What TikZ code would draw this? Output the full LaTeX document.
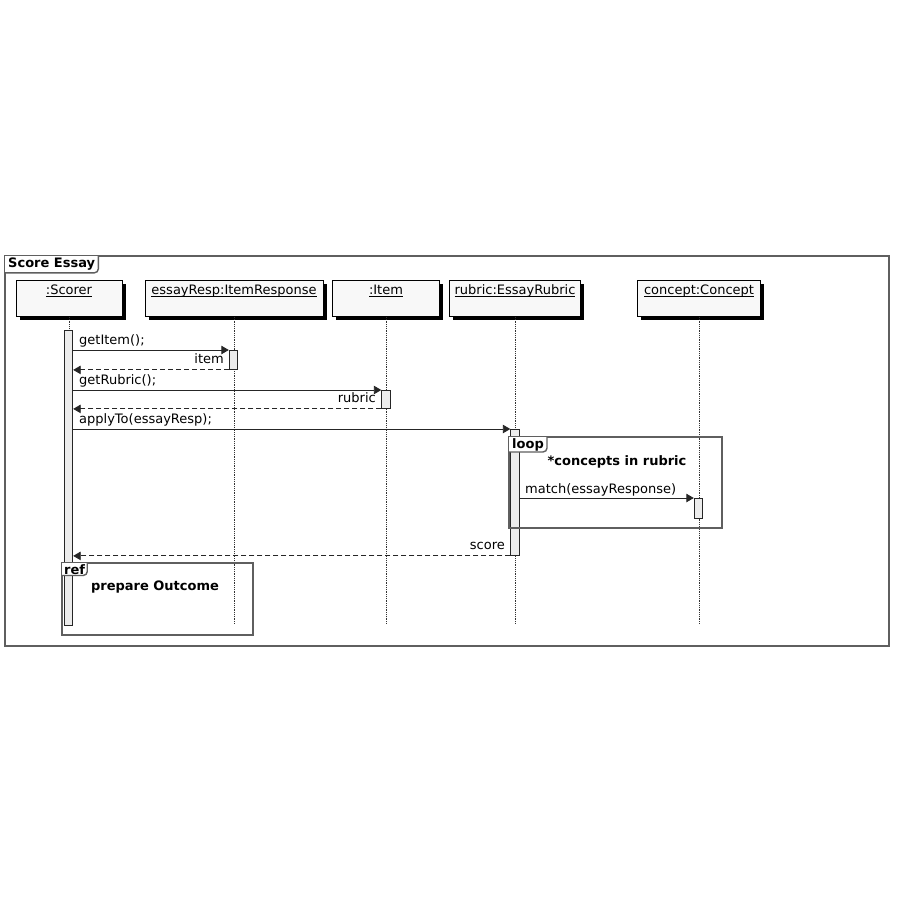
\documentclass[tikz,border=0pt]{standalone}
\usepackage{fontspec}
\setmainfont{DejaVu Sans}
\usetikzlibrary{arrows.meta,shadows}

\definecolor{framegray}{HTML}{5F5F5F}
\definecolor{headfill}{HTML}{F8F8F8}
\definecolor{actfill}{HTML}{ECECEC}

\newcommand{\objname}[1]{\underline{\smash{#1}}}

\tikzset{
  base/.style={font=\fontsize{13}{15}\selectfont},
  head/.style={base, draw=black, line width=0.9pt, fill=headfill, anchor=north,
    minimum height=35pt, inner ysep=3pt, text height=11pt, text depth=19pt,
    drop shadow={shadow xshift=3.5pt, shadow yshift=-3.5pt, fill=black, opacity=1}},
  lifeline/.style={densely dotted, line width=0.8pt, black!80},
  act/.style={draw=black!85, line width=0.9pt, fill=actfill, minimum width=8.5pt, anchor=north, inner sep=0pt},
  msg/.style={line width=0.9pt, black!85, -{Triangle[length=7.5pt,width=8.5pt]}},
  ret/.style={msg, dashed, dash pattern=on 5pt off 3pt},
  lbl/.style={base, inner sep=0pt},
  frame/.style={draw=framegray, line width=1.6pt},
  tabtext/.style={font=\fontsize{13}{15}\selectfont\bfseries, inner xsep=3pt, inner ysep=2pt, anchor=north west},
  tab/.style={draw=framegray, line width=1.4pt, rounded corners=4pt},
  guard/.style={font=\fontsize{13}{15}\selectfont\bfseries, inner sep=0pt}
}

\begin{document}
\begin{tikzpicture}[x=1pt,y=-1pt]
\useasboundingbox (0,0) rectangle (900,899);
\fill[white] (0,0) rectangle (900,899);

% outer interaction frame
\draw[frame, line width=1.4pt] (5,256) rectangle (889,646);
\coordinate (outerNW) at (5,256);
\node[tabtext, fill=white] (title) at (outerNW) {Score Essay};
\draw[tab] (title.south west) -- (title.south east) -- (title.north east);

% lifeline heads
\node[head, minimum width=106pt] (scorer)  at (69,280)  {\objname{:Scorer}};
\node[head, minimum width=178pt] (resp)    at (234,280) {\objname{essayResp:ItemResponse}};
\node[head, minimum width=107pt] (item)    at (386,280) {\objname{:Item}};
\node[head, minimum width=131pt] (rubric)  at (515,280) {\objname{rubric:EssayRubric}};
\node[head, minimum width=123pt] (concept) at (699,280) {\objname{concept:Concept}};

% lifeline ends
\coordinate (scorerEnd)  at (69,625);
\coordinate (respEnd)    at (234,623);
\coordinate (itemEnd)    at (386,623);
\coordinate (rubricEnd)  at (515,623);
\coordinate (conceptEnd) at (699,623);

\draw[lifeline] (scorer.south)  -- (scorerEnd);
\draw[lifeline] (resp.south)    -- (respEnd);
\draw[lifeline] (item.south)    -- (itemEnd);
\draw[lifeline] (rubric.south)  -- (rubricEnd);
\draw[lifeline] (concept.south) -- (conceptEnd);

% activations
\node[act, minimum height=295pt] (sA) at (68.5,330) {};
\node[act, minimum height=19pt]  (iA) at (233.5,350) {};
\node[act, minimum height=18pt]  (tA) at (386,390) {};
\node[act, minimum height=126pt] (rA) at (515,429) {};
\node[act, minimum height=20pt]  (cA) at (698.5,498) {};

% getItem
\draw[msg] (sA.east |- iA.north west) -- (iA.north west);
\node[lbl, anchor=base west] (m1) at (79,344) {getItem();};
\node[lbl, anchor=base east] (r1) at (224,363) {item};
\draw[ret] (iA.south west) -- (sA.east |- iA.south west);

% getRubric
\draw[msg] (sA.east |- tA.north west) -- (tA.north west);
\node[lbl, anchor=base west] (m2) at (79,384) {getRubric();};
\node[lbl, anchor=base east] (r2) at (376,402) {rubric};
\draw[ret] (tA.south west) -- (sA.east |- tA.south west);

% applyTo
\draw[msg] (sA.east |- rA.north west) -- (rA.north west);
\node[lbl, anchor=base west] (m3) at (79,423) {applyTo(essayResp);};

% loop fragment
\draw[frame, line width=2pt] (509,437) rectangle (722,528);
\coordinate (loopNW) at (509,437);
\node[tabtext, fill=white, inner ysep=1pt] (loopTab) at (loopNW) {loop};
\draw[tab] (loopTab.south west) -- (loopTab.south east) -- (loopTab.north east);
\node[guard, anchor=base] (cond) at (617,465) {*concepts in rubric};

% match
\draw[msg] (rA.east |- cA.north west) -- (cA.north west);
\node[lbl, anchor=base west] (m4) at (525,493) {match(essayResponse)};

% score
\node[lbl, anchor=base east] (r3) at (505,549) {score};
\draw[ret] (rA.south west) -- (sA.east |- rA.south west);

% ref fragment
\draw[frame, line width=1.8pt] (62,563) rectangle (253,635);
\coordinate (refNW) at (62,563);
\node[tabtext, fill=white, inner ysep=1pt, inner xsep=2pt] (refTab) at (refNW) {ref};
\draw[tab] (refTab.south west) -- (refTab.south east) -- (refTab.north east);
\node[guard, anchor=base] (refName) at (155,590) {prepare Outcome};
\end{tikzpicture}
\end{document}
